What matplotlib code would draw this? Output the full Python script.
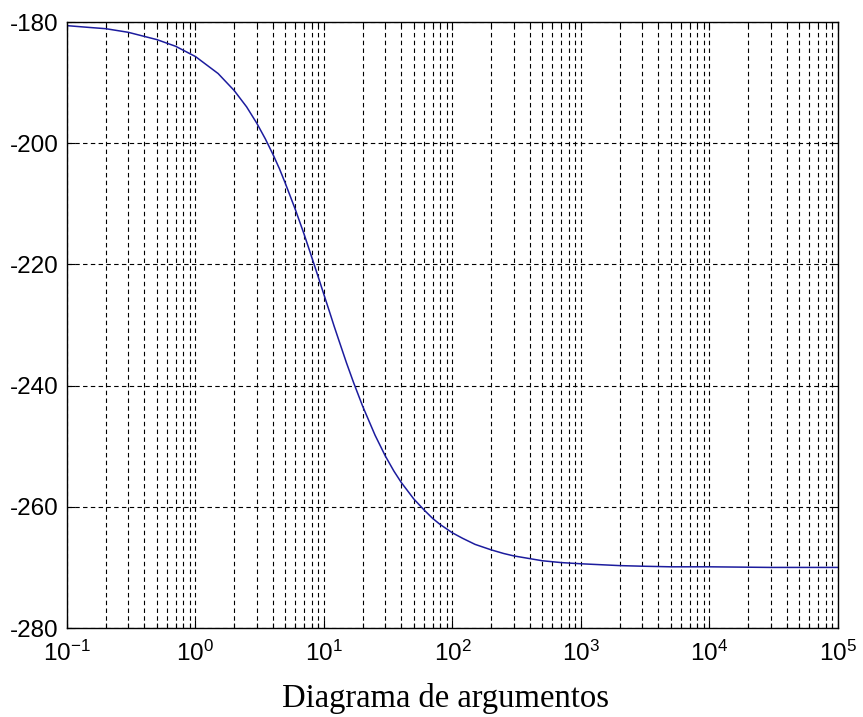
import numpy as np
import matplotlib
matplotlib.use('Agg')
import matplotlib.pyplot as plt
from matplotlib.ticker import LogLocator, NullFormatter

# ==========================================
# Datos (fase en grados)
# ==========================================
frecuencias = [0.1, 0.15, 0.2, 0.3, 0.5, 0.7, 1, 1.5, 2, 2.5, 3, 3.5, 4, 4.5,
               5, 6, 7, 8, 9, 10, 11, 12, 13, 15, 17, 20, 25, 30, 35, 40,
               50, 60, 70, 80, 100, 120, 150, 200, 250, 300, 500, 700, 1000,
               2000, 3000, 5000, 10000, 30000, 100000]
fase = [-180.6, -180.9, -181.1, -181.7, -182.9, -184.0, -185.7, -188.5,
        -191.3, -194.0, -196.7, -199.3, -201.8, -204.2, -206.6, -211.0,
        -215.0, -218.7, -222.0, -225.0, -227.7, -230.2, -232.4, -236.3,
        -239.5, -243.4, -248.2, -251.6, -254.1, -256.0, -258.7, -260.5,
        -261.9, -262.9, -264.3, -265.2, -266.2, -267.1, -267.7, -268.1,
        -268.9, -269.2, -269.4, -269.7, -269.8, -269.9, -269.9, -270.0,
        -270.0]

yticks = [-280, -260, -240, -220, -200, -180]
xticks = [1e-1, 1e0, 1e1, 1e2, 1e3, 1e4, 1e5]
xtick_labels = [r'$10^{-1}$', r'$10^{0}$', r'$10^{1}$', r'$10^{2}$',
                r'$10^{3}$', r'$10^{4}$', r'$10^{5}$']

plt.rcParams['mathtext.fontset'] = 'custom'
plt.rcParams['mathtext.rm'] = 'Liberation Sans'
plt.rcParams['mathtext.it'] = 'Liberation Sans'
plt.rcParams['mathtext.default'] = 'rm'

fig = plt.figure(figsize=(8.63, 7.17), dpi=100)
ax = fig.add_axes([0.0776, 0.1241, 0.8934, 0.8452])

ax.semilogx(frecuencias, fase, color='#1c1c9e', linewidth=1.1)

ax.set_xlim(1e-1, 1e5)
ax.set_ylim(-280, -180)
ax.set_xticks(xticks)
ax.set_xticklabels(xtick_labels)
ax.xaxis.set_minor_locator(LogLocator(base=10, subs=np.arange(2, 10), numticks=20))
ax.xaxis.set_minor_formatter(NullFormatter())
ax.set_yticks(yticks)
ax.set_yticklabels([str(v) for v in yticks])

estilo = dict(color='black', linestyle=(0, (4, 3)), linewidth=0.8)
ax.grid(True, which='major', axis='both', **estilo)
ax.grid(True, which='minor', axis='x', **estilo)

ax.tick_params(which='both', direction='in', top=True, right=True,
               labelsize=17.5, color='black')
ax.tick_params(which='major', length=6, width=0.8)
ax.tick_params(which='minor', length=3.5, width=0.8)
ax.tick_params(axis='x', pad=9)
ax.tick_params(axis='y', pad=6)
for lbl in ax.get_xticklabels() + ax.get_yticklabels():
    lbl.set_family('Liberation Sans')
for s in ax.spines.values():
    s.set_linewidth(1.0)

fig.text(0.516, 0.026, 'Diagrama de argumentos', ha='center', va='center',
         fontsize=23.5, family='Liberation Serif')

fig.savefig('out.png', dpi=100)
